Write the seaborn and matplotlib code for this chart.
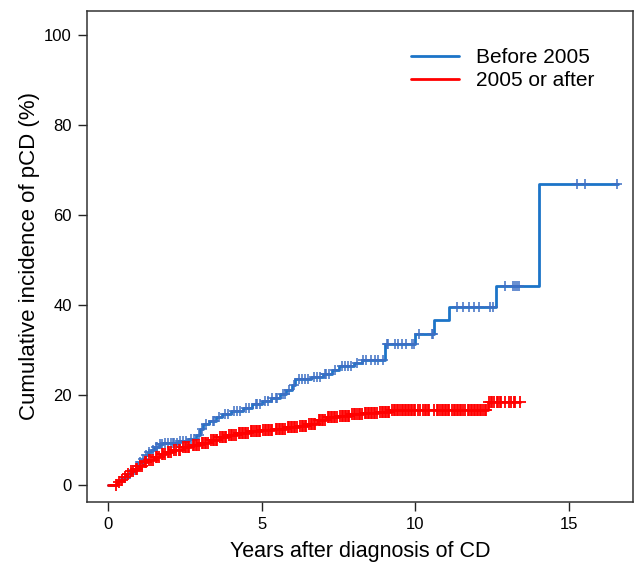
import numpy as np
import pandas as pd
import matplotlib
matplotlib.use("Agg")
import matplotlib.pyplot as plt
from matplotlib.lines import Line2D
import seaborn as sns

# ---- data ----
groups = ["Before 2005", "2005 or after"]

blue_times = [0, 0.3, 0.45, 0.6, 0.75, 0.9, 1.0, 1.1, 1.2, 1.3, 1.4, 1.5, 1.65, 1.8,
              2.3, 2.6, 2.85, 3.0, 3.1, 3.3, 3.5, 3.7, 4.0, 4.4, 4.7, 5.0, 5.3, 5.6,
              5.8, 6.0, 6.1, 6.6, 7.0, 7.3, 7.5, 8.0, 8.25, 9.0, 10.0, 10.6, 11.1,
              12.63, 14.03, 16.6]
blue_ci = [0, 0.8, 1.6, 2.5, 3.2, 4.2, 5.0, 5.8, 6.6, 7.3, 7.8, 8.5, 9.0, 9.4,
           9.8, 10.3, 11.0, 12.5, 13.5, 14.3, 15.0, 15.8, 16.5, 17.2, 18.0, 18.7, 19.3, 20.2,
           21.0, 22.2, 23.6, 24.0, 24.7, 25.6, 26.4, 27.0, 27.8, 31.3, 33.6, 36.6, 39.6,
           44.3, 66.8, 66.8]

red_times = [0, 0.3, 0.4, 0.5, 0.6, 0.7, 0.85, 1.0, 1.15, 1.3, 1.5, 1.7, 1.9, 2.1,
             2.4, 2.7, 3.0, 3.3, 3.6, 3.9, 4.2, 4.6, 5.0, 5.4, 5.8, 6.2, 6.5, 6.8,
             7.1, 7.5, 7.9, 8.3, 8.8, 9.2, 12.35, 13.4]
red_ci = [0, 0.6, 1.2, 1.8, 2.5, 3.0, 3.6, 4.3, 5.0, 5.5, 6.2, 6.9, 7.4, 7.8,
          8.4, 8.8, 9.3, 10.0, 10.6, 11.1, 11.5, 11.9, 12.2, 12.5, 12.8, 13.1, 13.6, 14.4,
          15.0, 15.4, 15.8, 16.0, 16.3, 16.6, 18.5, 18.5]

blue_censor = [0.55, 0.7, 0.95, 1.05, 1.15, 1.25, 1.35, 1.45, 1.55, 1.6, 1.7, 1.75, 1.85,
               1.95, 2.05, 2.1, 2.15, 2.25, 2.35, 2.45, 2.55, 2.7, 2.8, 2.95, 3.05, 3.2,
               3.4, 3.45, 3.6, 3.8, 3.9, 4.1, 4.2, 4.3, 4.5, 4.6, 4.8, 4.85, 4.95, 5.1,
               5.2, 5.35, 5.45, 5.5, 5.7, 5.75, 5.9, 6.05, 6.2, 6.3, 6.4, 6.5, 6.7, 6.8,
               6.9, 7.05, 7.1, 7.2, 7.4, 7.6, 7.7, 7.8, 7.9, 8.1, 8.3, 8.4, 8.55, 8.7,
               8.8, 8.95, 9.09, 9.12, 9.35, 9.45, 9.58, 9.68, 9.9, 9.94, 10.13, 10.55,
               10.58, 11.36, 11.56, 11.75, 11.92, 12.08, 12.44, 12.53, 12.92, 13.18,
               13.25, 13.31, 13.38, 15.26, 15.52, 16.56]

red_censor = [0.25, 0.35, 0.45, 0.55, 0.65, 0.75, 0.8, 0.9, 0.95, 1.05, 1.1, 1.2, 1.25,
              1.35, 1.4, 1.45, 1.55, 1.6, 1.65, 1.75, 1.8, 1.85, 1.95, 2.0, 2.05, 2.15,
              2.2, 2.3, 2.35, 2.45, 2.5, 2.55, 2.6, 2.65, 2.75, 2.8, 2.85, 2.9, 2.95,
              3.05, 3.1, 3.15, 3.2, 3.25, 3.35, 3.4, 3.45, 3.5, 3.55, 3.65, 3.7, 3.75,
              3.8, 3.85, 3.95, 4.0, 4.05, 4.1, 4.15, 4.25, 4.3, 4.35, 4.4, 4.45, 4.5,
              4.55, 4.65, 4.7, 4.75, 4.8, 4.85, 4.9, 4.95, 5.05, 5.1, 5.15, 5.2, 5.25,
              5.3, 5.35, 5.45, 5.5, 5.55, 5.6, 5.65, 5.7, 5.75, 5.85, 5.9, 5.95, 6.0,
              6.05, 6.1, 6.15, 6.25, 6.3, 6.35, 6.4, 6.45, 6.55, 6.6, 6.65, 6.7, 6.75,
              6.85, 6.9, 6.95, 7.0, 7.05, 7.15, 7.2, 7.25, 7.3, 7.35, 7.4, 7.45, 7.55,
              7.6, 7.65, 7.7, 7.75, 7.8, 7.85, 7.95, 8.0, 8.05, 8.1, 8.15, 8.2, 8.25,
              8.35, 8.4, 8.45, 8.5, 8.55, 8.6, 8.65, 8.7, 8.75, 8.85, 8.9, 8.95, 9.0,
              9.05, 9.1, 9.15, 9.25, 9.3, 9.35, 9.4, 9.45, 9.5, 9.55, 9.6, 9.65, 9.7,
              9.75, 9.8, 9.85, 9.9, 9.95, 10.0, 10.1, 10.15, 10.25, 10.3, 10.35, 10.4,
              10.45, 10.6, 10.7, 10.75, 10.8, 10.85, 10.9, 10.95, 11.0, 11.05, 11.1,
              11.2, 11.25, 11.3, 11.35, 11.4, 11.45, 11.5, 11.55, 11.6, 11.7, 11.75,
              11.8, 11.85, 11.9, 11.95, 12.0, 12.05, 12.1, 12.15, 12.2, 12.25, 12.3,
              12.4, 12.45, 12.5, 12.55, 12.65, 12.7, 12.75, 12.8, 12.9, 13.05, 13.1,
              13.2, 13.25, 13.4]

x_ticks = [0, 5, 10, 15]
y_ticks = [0, 20, 40, 60, 80, 100]

colors = {"Before 2005": "#1C74C8", "2005 or after": "#FF0000"}
cens_colors = {"Before 2005": "#3D6FC4", "2005 or after": "#FF0000"}

# ---- build tables ----
curve_df = pd.concat([
    pd.DataFrame({"t": blue_times, "ci": blue_ci, "group": groups[0]}),
    pd.DataFrame({"t": red_times, "ci": red_ci, "group": groups[1]}),
], ignore_index=True)


def censor_frame(ctimes, times, ci, grp):
    times = np.asarray(times)
    ci = np.asarray(ci)
    idx = np.searchsorted(times, np.asarray(ctimes), side="right") - 1
    return pd.DataFrame({"t": ctimes, "ci": ci[idx], "group": grp})


cens_df = pd.concat([
    censor_frame(blue_censor, blue_times, blue_ci, groups[0]),
    censor_frame(red_censor, red_times, red_ci, groups[1]),
], ignore_index=True)

# ---- plot ----
sns.set_style("white")
plt.rcParams["font.family"] = ["Liberation Sans", "DejaVu Sans"]
plt.rcParams["text.color"] = "black"
plt.rcParams["axes.labelcolor"] = "black"
plt.rcParams["xtick.color"] = "black"
plt.rcParams["ytick.color"] = "black"

fig = plt.figure(figsize=(6.35, 5.64), dpi=100)
ax = fig.add_axes([87 / 635, 62 / 564, 546 / 635, 491 / 564])

for grp in groups:
    sub = curve_df[curve_df.group == grp]
    sns.lineplot(data=sub, x="t", y="ci", color=colors[grp], drawstyle="steps-post",
                 estimator=None, sort=False, lw=2.0, ax=ax, legend=False)
    csub = cens_df[cens_df.group == grp]
    sns.scatterplot(data=csub, x="t", y="ci", marker="+",
                    s=65 if grp == groups[1] else 60,
                    linewidth=1.3 if grp == groups[1] else 1.1,
                    color=cens_colors[grp], ax=ax, legend=False, zorder=3)

ax.set_xlim(-0.683, 17.08)
ax.set_ylim(-3.78, 105.3)
ax.set_xticks(x_ticks)
ax.set_yticks(y_ticks)
ax.tick_params(axis="both", direction="out", length=6.5, width=1, color="#222222",
               labelsize=12, pad=4.5, left=True, bottom=True, labelcolor="black")
for s in ax.spines.values():
    s.set_visible(True)
    s.set_color("#333333")
    s.set_linewidth(1.1)

ax.set_xlabel("Years after diagnosis of CD", fontsize=15.5, labelpad=6)
ax.set_ylabel("Cumulative incidence of pCD (%)", fontsize=16, labelpad=3)

handles = [Line2D([0], [0], color=colors[g], lw=2) for g in groups]
ax.legend(handles, groups, loc="upper left", bbox_to_anchor=(0.593, 0.925),
          frameon=False, fontsize=15, handlelength=2.3, handletextpad=0.85,
          labelspacing=0.2, borderpad=0, borderaxespad=0)

fig.savefig("out.png", dpi=100)
